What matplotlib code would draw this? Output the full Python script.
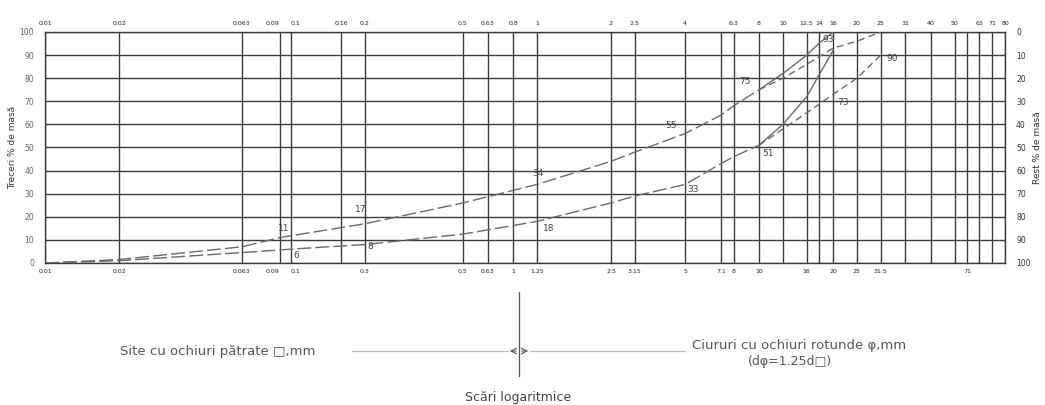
import numpy as np
import matplotlib
matplotlib.use("Agg")
from matplotlib import pyplot as plt

plt.rcParams['font.family'] = ['DejaVu Sans']

# sieve lines (square mesh, mm)
sieves = [0.01, 0.02, 0.063, 0.09, 0.1, 0.16, 0.2, 0.5, 0.63, 0.8, 1, 2, 2.5, 4,
          5.6, 6.3, 8, 10, 12.5, 14, 16, 20, 25, 31.5, 40, 50, 56, 63, 71, 80]
top_pos = [0.01, 0.02, 0.063, 0.09, 0.1, 0.16, 0.2, 0.5, 0.63, 0.8, 1, 2, 2.5, 4,
           6.3, 8, 10, 12.5, 14, 16, 20, 25, 31.5, 40, 50, 63, 71, 80]
top_lbl = ["0.01", "0.02", "0.063", "0.09", "0.1", "0.16", "0.2", "0.5", "0.63", "0.8",
           "1", "2", "2.5", "4", "6.3", "8", "10", "12.5", "14", "16", "20", "25", "31",
           "40", "50", "63", "71", "80"]
# round holes (d_round = 1.25 d_square), written under the square line
bot_pos = [0.01, 0.02, 0.063, 0.09, 0.1, 0.2, 0.5, 0.63, 0.8, 1, 2, 2.5, 4,
           5.6, 6.3, 8, 12.5, 16, 20, 25, 56]
bot_lbl = ["0.01", "0.02", "0.063", "0.09", "0.1", "0.3", "0.5", "0.63", "1", "1.25",
           "2.5", "3.15", "5", "7.1", "8", "10", "16", "20", "25", "31.5", "71"]

# upper limit (common part)
up_d = [0.01, 0.02, 0.063, 0.09, 0.2, 0.5, 1, 2, 2.5, 4, 5.6, 6.3, 8]
up_p = [0, 1.5, 7, 11, 17, 26, 34, 44, 48, 56, 64, 68, 75]
# upper limit branches: 0-16 (solid) and 0-25 (dashed)
up16_d = [8, 10, 12.5, 14, 16]
up16_p = [75, 82, 90, 95, 100]
up25_d = [8, 10, 12.5, 16, 20, 25]
up25_p = [75, 80, 86, 93, 96, 100]

# lower limit (common part)
lo_d = [0.01, 0.02, 0.063, 0.1, 0.2, 0.5, 1, 2, 2.5, 4, 5.6, 6.3, 8]
lo_p = [0, 1, 4.5, 6, 8, 12.5, 18, 26, 29, 34, 43, 46, 51]
lo16_d = [8, 10, 12.5, 16]
lo16_p = [51, 60, 72, 92]
lo25_d = [8, 10, 12.5, 16, 20, 25]
lo25_p = [51, 58, 65, 73, 80, 90]

# labelled points
up_lab_d = [0.09, 0.2, 1, 4, 8, 16]
up_lab_p = [11, 17, 34, 55, 75, 93]
lo_lab_d = [0.1, 0.2, 1, 4, 8, 16, 25]
lo_lab_p = [6, 8, 18, 33, 51, 73, 90]

grid_c = '#3c3c3c'
curve_c = '#6a6a6a'
txt_c = '#444444'

fig = plt.figure(figsize=(10.45, 4.05), dpi=100)
ax = fig.add_axes([45/1045, 142/405, 960/1045, 231/405])
ax.set_xscale('log')
ax.set_xlim(0.01, 80)
ax.set_ylim(0, 100)

for s in sieves:
    ax.axvline(s, color=grid_c, lw=1.0, zorder=1)
for v in range(0, 101, 10):
    ax.axhline(v, color=grid_c, lw=1.0, zorder=1)
for sp in ax.spines.values():
    sp.set_color(grid_c)
    sp.set_linewidth(1.0)

# curves
ax.plot(up_d, up_p, color=curve_c, lw=1.0, dashes=(10, 3), zorder=3)
ax.plot(lo_d, lo_p, color=curve_c, lw=1.0, dashes=(10, 3), zorder=3)
ax.plot(up16_d, up16_p, color=curve_c, lw=1.0, zorder=3)
ax.plot(lo16_d, lo16_p, color=curve_c, lw=1.0, zorder=3)
ax.plot(up25_d, up25_p, color=curve_c, lw=1.0, dashes=(5, 3), zorder=3)
ax.plot(lo25_d, lo25_p, color=curve_c, lw=1.0, dashes=(5, 3), zorder=3)

up_off = [(-1, 3), (-7, 7), (-3, 5), (-14, 4), (-14, 3), (-8, 3)]
for d, p, o in zip(up_lab_d, up_lab_p, up_off):
    ax.annotate(str(p), (d, p), xytext=o, textcoords='offset points',
                fontsize=6.5, color=txt_c, ha='left', va='bottom')
lo_off = [(2, -8), (2, -5), (4, -8), (2, -5), (2, -9), (3, -9), (4, -6)]
for d, p, o in zip(lo_lab_d, lo_lab_p, lo_off):
    ax.annotate(str(p), (d, p), xytext=o, textcoords='offset points',
                fontsize=6.5, color=txt_c, ha='left', va='bottom')

# bottom / left ticks
ax.set_xticks(bot_pos)
ax.set_xticklabels(bot_lbl)
ax.xaxis.set_minor_locator(matplotlib.ticker.NullLocator())
ax.tick_params(axis='x', length=0, pad=4, labelsize=4.5, labelcolor='#222222')
blab = ax.get_xticklabels()
blab[3].set_ha('right')
blab[4].set_ha('left')
ax.set_yticks(range(0, 101, 10))
ax.tick_params(axis='y', length=0, pad=8, labelsize=5.5, labelcolor='#666666')
ax.set_ylabel("Treceri % de masă", fontsize=6.5, color='#333333', labelpad=2)

top = ax.secondary_xaxis('top')
top.set_xticks(top_pos)
top.set_xticklabels(top_lbl)
top.xaxis.set_minor_locator(matplotlib.ticker.NullLocator())
top.tick_params(length=0, pad=4, labelsize=4.5, labelcolor='#222222')
top.spines['top'].set_visible(False)
tlab = top.get_xticklabels()
tlab[3].set_ha('right')
tlab[4].set_ha('left')

right = ax.twinx()
right.set_ylim(100, 0)
right.set_yticks(range(0, 101, 10))
right.tick_params(length=0, pad=8, labelsize=5.5, labelcolor='#333333')
right.set_ylabel("Rest % de masă", fontsize=6.5, color='#333333', rotation=90, labelpad=2)
for sp in right.spines.values():
    sp.set_visible(False)

# legend sketch under the chart (pixel coords)
ov = fig.add_axes([0, 0, 1, 1])
ov.set_xlim(0, 1045)
ov.set_ylim(405, 0)
ov.axis('off')
ov.plot([519, 519], [292, 376], color='#555555', lw=0.9)
ov.plot([352, 508], [351, 351], color='#bbbbbb', lw=0.9)
ov.plot([530, 685], [351, 351], color='#bbbbbb', lw=0.9)
ov.annotate('', xy=(507, 351), xytext=(519, 351),
            arrowprops=dict(arrowstyle='->', color='#555555', lw=0.8))
ov.annotate('', xy=(531, 351), xytext=(519, 351),
            arrowprops=dict(arrowstyle='->', color='#555555', lw=0.8))
ov.text(120, 352, "Site cu ochiuri pătrate □,mm", fontsize=9.5, color='#555555',
        ha='left', va='center')
ov.text(692, 345, "Ciururi cu ochiuri rotunde φ,mm", fontsize=9.5, color='#555555',
        ha='left', va='center')
ov.text(790, 362, "(dφ=1.25d□)", fontsize=9, color='#555555', ha='center', va='center')
ov.text(518, 397, "Scări logaritmice", fontsize=9, color='#444444', ha='center', va='center')

fig.savefig("out.png", dpi=100, facecolor='white')
